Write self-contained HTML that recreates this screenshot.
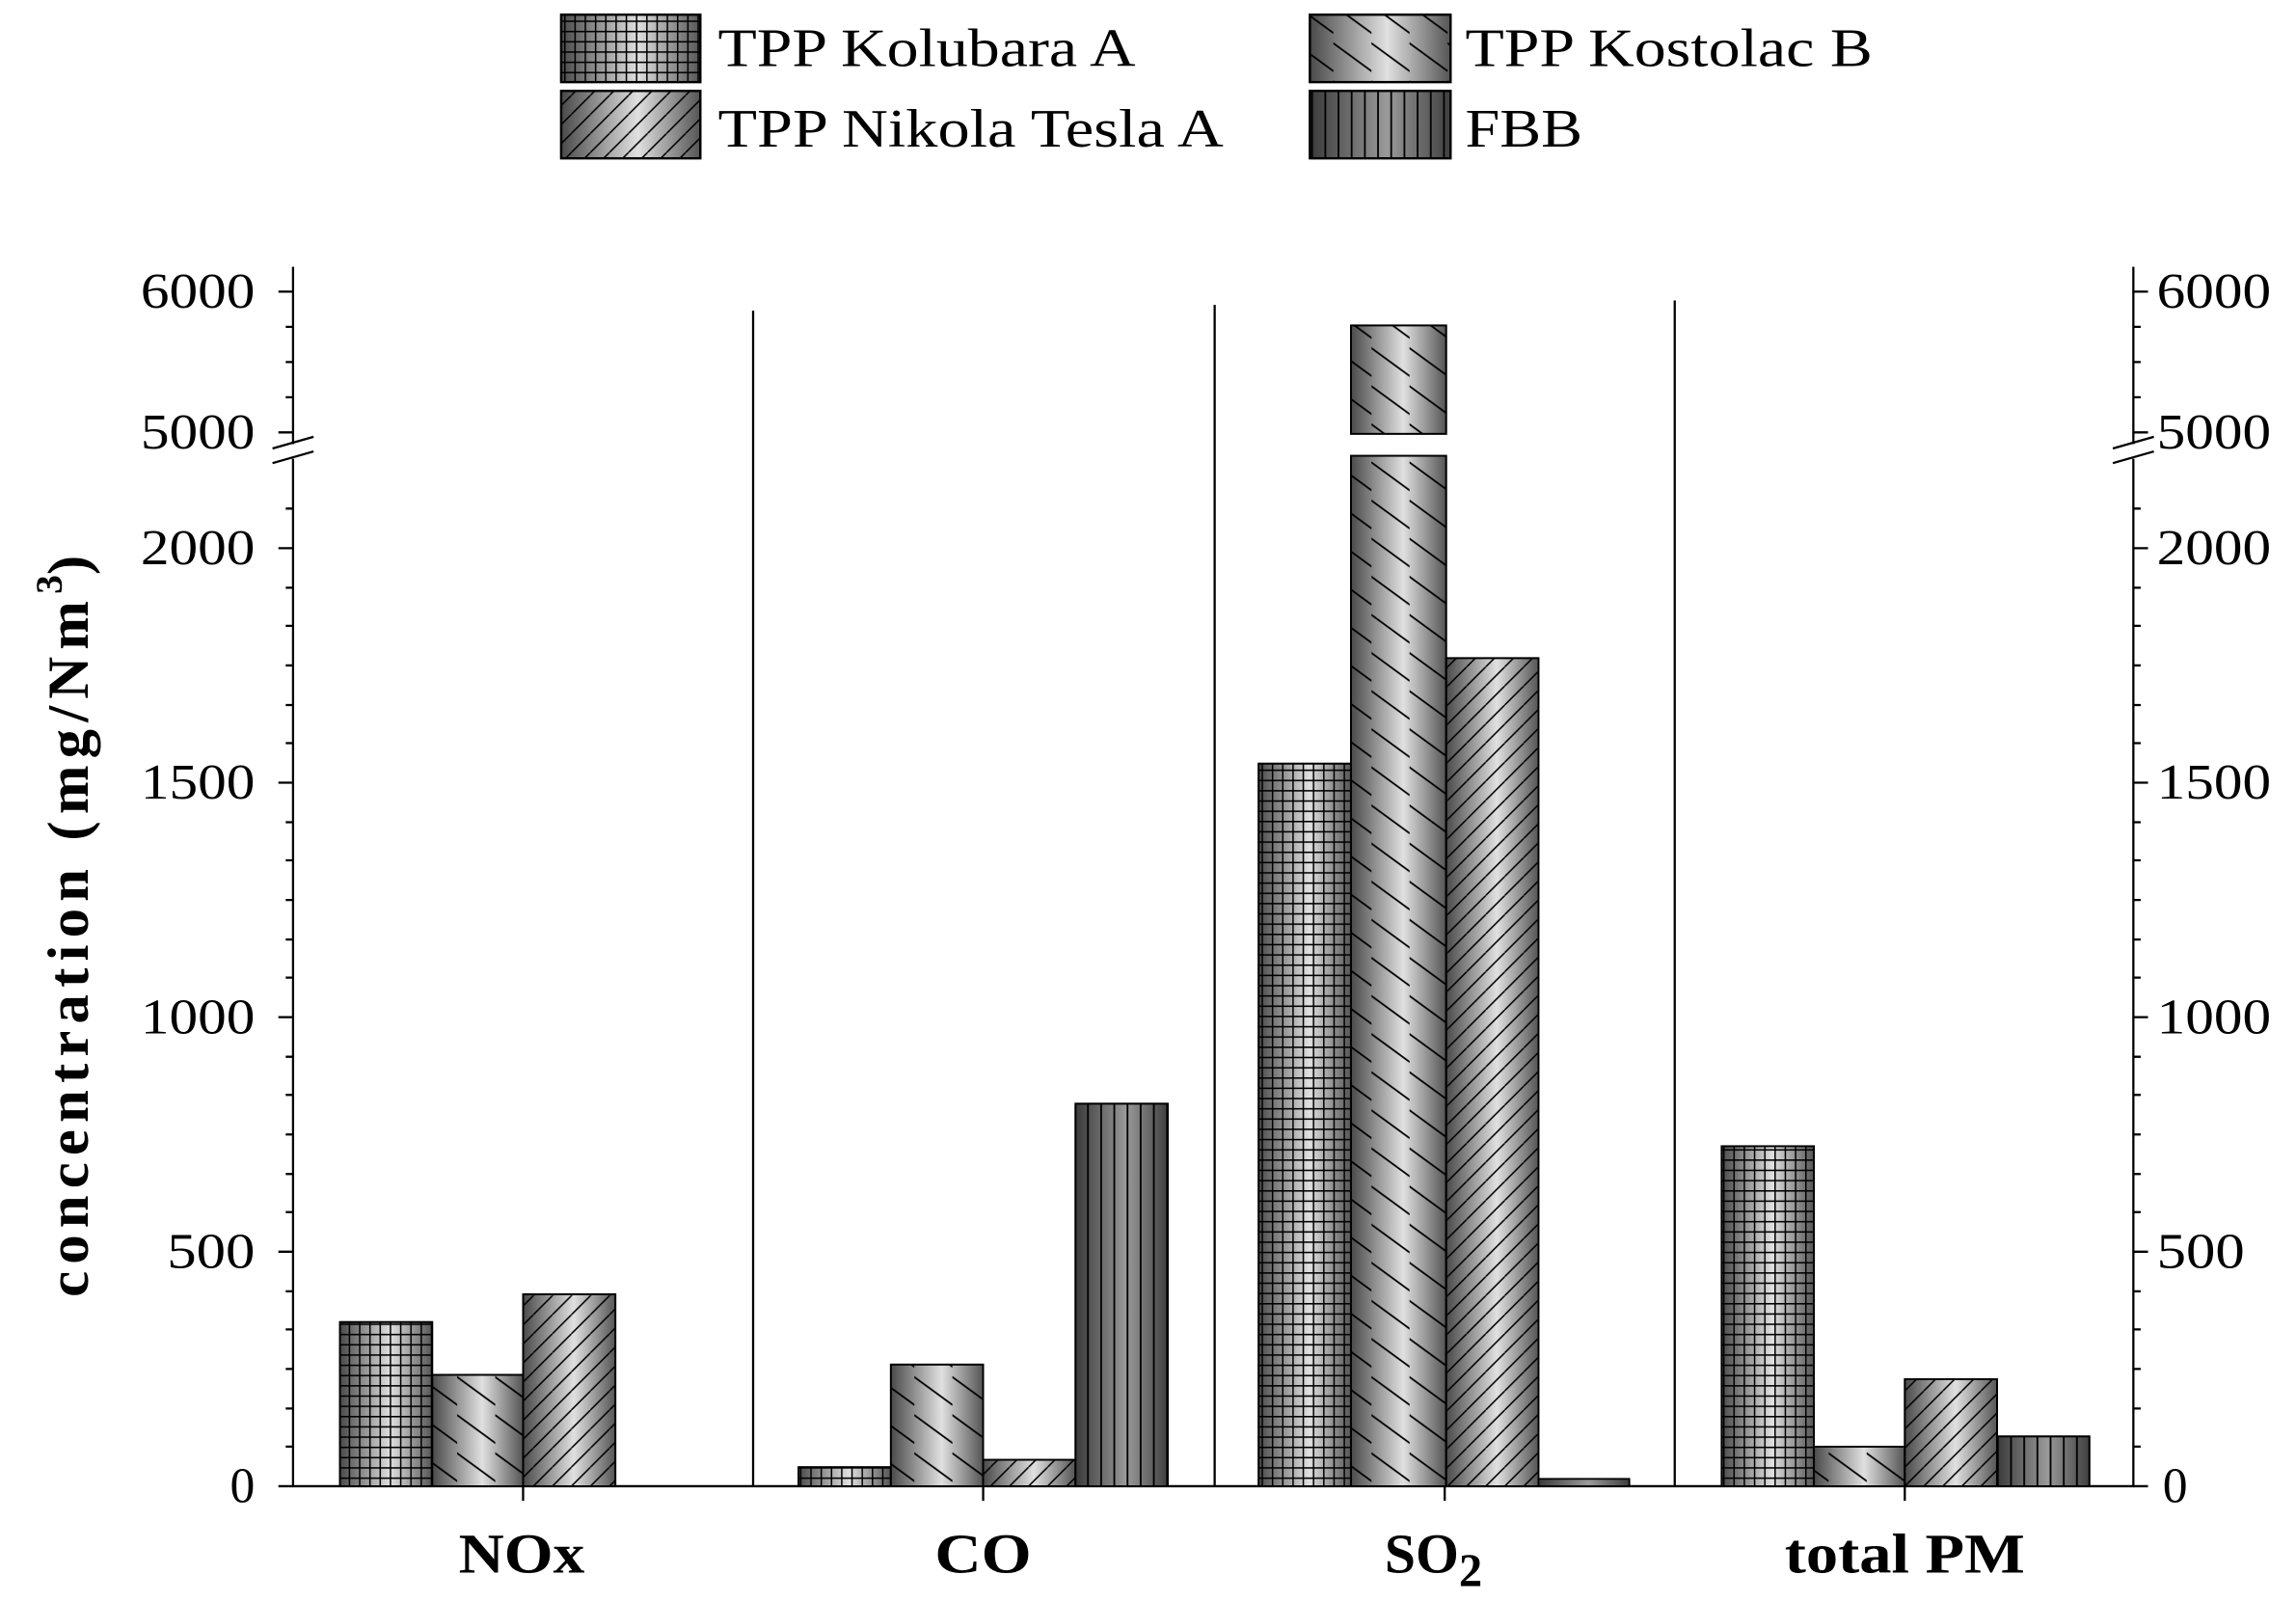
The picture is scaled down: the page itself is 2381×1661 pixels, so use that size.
<!DOCTYPE html>
<html><head><meta charset="utf-8"><style>
html,body{margin:0;padding:0;background:#fff;}
svg{display:block;}
text{font-family:"Liberation Serif",serif;fill:#000;}
</style></head><body>
<svg width="2381" height="1661" viewBox="0 0 1567 1093" preserveAspectRatio="none" xmlns="http://www.w3.org/2000/svg">
<defs>
<linearGradient id="g" x1="0" x2="1" y1="0" y2="0">
<stop offset="0" stop-color="#4a4a4a"/><stop offset="0.55" stop-color="#e0e0e0"/><stop offset="1" stop-color="#555"/>
</linearGradient>
<linearGradient id="gd" x1="0" x2="1" y1="0" y2="0">
<stop offset="0" stop-color="#3a3a3a"/><stop offset="0.55" stop-color="#9a9a9a"/><stop offset="1" stop-color="#3f3f3f"/>
</linearGradient>
<pattern id="pgrid" width="7" height="7" patternUnits="userSpaceOnUse"><path d="M0 0.5H7M0.5 0V7" stroke="#000" stroke-width="1"/></pattern>
<pattern id="pback" width="26" height="26" patternUnits="userSpaceOnUse"><path d="M-13 -6 L39 32 M-13 -32 L39 6 M-13 20 L39 58" stroke="#000" stroke-width="1.2"/></pattern>
<pattern id="pfwd" width="13" height="13" patternUnits="userSpaceOnUse"><path d="M0 13 L13 0 M-13 13 L0 0 M13 13 L26 0" stroke="#000" stroke-width="1"/></pattern>
<pattern id="pvert" width="9" height="9" patternUnits="userSpaceOnUse"><path d="M4.5 0V9" stroke="#000" stroke-width="1.2"/></pattern>
</defs>

<g stroke="#000" stroke-width="1.5">
<rect x="383" y="10" width="95" height="46" fill="url(#g)"/><rect x="383" y="10" width="95" height="46" fill="url(#pgrid)"/>
<rect x="383" y="62" width="95" height="46" fill="url(#g)"/><rect x="383" y="62" width="95" height="46" fill="url(#pfwd)"/>
<rect x="894" y="10" width="96" height="46" fill="url(#g)"/><rect x="894" y="10" width="96" height="46" fill="url(#pback)"/>
<rect x="894" y="62" width="96" height="46" fill="url(#gd)"/><rect x="894" y="62" width="96" height="46" fill="url(#pvert)"/>
</g>
<g font-size="37">
<text x="490" y="45" textLength="285" lengthAdjust="spacingAndGlyphs">TPP Kolubara A</text>
<text x="490" y="100" textLength="345" lengthAdjust="spacingAndGlyphs">TPP Nikola Tesla A</text>
<text x="1000" y="45" textLength="278" lengthAdjust="spacingAndGlyphs">TPP Kostolac B</text>
<text x="1000" y="100" textLength="80" lengthAdjust="spacingAndGlyphs">FBB</text>
</g>

<g stroke="#000" stroke-width="1.5" fill="none">
<path d="M200 182V1014H1456V182"/>
<path d="M514 212V1014M829 208V1014M1143 205V1014"/>
<path d="M357 1014V1024M671 1014V1024M986 1014V1024M1300 1014V1024"/>
<path d="M200 1014H190M200 854H190M200 694H190M200 534H190M200 374H190M200 295H190M200 199H190"/>
<path d="M200 934H195M200 774H195M200 614H195M200 454H195M200 247H195M200 223H195M200 271H195M200 987H195M200 961H195M200 907H195M200 881H195M200 827H195M200 801H195M200 747H195M200 721H195M200 667H195M200 641H195M200 587H195M200 561H195M200 507H195M200 481H195M200 427H195M200 401H195M200 347H195"/>
<path d="M1456 1014H1466M1456 854H1466M1456 694H1466M1456 534H1466M1456 374H1466M1456 295H1466M1456 199H1466"/>
<path d="M1456 934H1461M1456 774H1461M1456 614H1461M1456 454H1461M1456 247H1461M1456 223H1461M1456 271H1461M1456 987H1461M1456 961H1461M1456 907H1461M1456 881H1461M1456 827H1461M1456 801H1461M1456 747H1461M1456 721H1461M1456 667H1461M1456 641H1461M1456 587H1461M1456 561H1461M1456 507H1461M1456 481H1461M1456 427H1461M1456 401H1461M1456 347H1461"/>
</g>
<rect x="190" y="303" width="20" height="10" fill="#fff"/>
<rect x="1446" y="303" width="20" height="10" fill="#fff"/>
<g stroke="#000" stroke-width="1.5">
<path d="M186 306L214 298M186 316L214 308M1442 306L1470 298M1442 316L1470 308"/>
</g>

<g font-size="34" text-anchor="end" lengthAdjust="spacingAndGlyphs">
<text x="174" y="1025">0</text><text x="174" y="865" textLength="60" lengthAdjust="spacingAndGlyphs">500</text><text x="174" y="705" textLength="78" lengthAdjust="spacingAndGlyphs">1000</text>
<text x="174" y="545" textLength="78" lengthAdjust="spacingAndGlyphs">1500</text><text x="174" y="385" textLength="78" lengthAdjust="spacingAndGlyphs">2000</text><text x="174" y="306" textLength="78" lengthAdjust="spacingAndGlyphs">5000</text><text x="174" y="210" textLength="78" lengthAdjust="spacingAndGlyphs">6000</text>
</g>
<g font-size="34" text-anchor="start">
<text x="1476" y="1025">0</text><text x="1472" y="865" textLength="60" lengthAdjust="spacingAndGlyphs">500</text><text x="1472" y="705" textLength="78" lengthAdjust="spacingAndGlyphs">1000</text>
<text x="1472" y="545" textLength="78" lengthAdjust="spacingAndGlyphs">1500</text><text x="1472" y="385" textLength="78" lengthAdjust="spacingAndGlyphs">2000</text><text x="1472" y="306" textLength="78" lengthAdjust="spacingAndGlyphs">5000</text><text x="1472" y="210" textLength="78" lengthAdjust="spacingAndGlyphs">6000</text>
</g>
<g font-size="38" font-weight="bold">
<text x="313" y="1073" textLength="86" lengthAdjust="spacingAndGlyphs">NOx</text>
<text x="638" y="1073" textLength="66" lengthAdjust="spacingAndGlyphs">CO</text>
<text x="945" y="1073">SO<tspan font-size="32" dy="9">2</tspan></text>
<text x="1218" y="1073" textLength="164" lengthAdjust="spacingAndGlyphs">total PM</text>
</g>
<text transform="translate(60,885) rotate(-90)" font-size="40" font-weight="bold"><tspan textLength="475" lengthAdjust="spacing">concentration (mg/Nm</tspan><tspan font-size="26" dy="-18">3</tspan><tspan dy="18">)</tspan></text>

<g stroke="#000" stroke-width="1.2">
<rect x="232" y="902" width="63" height="112" fill="url(#g)"/><rect x="232" y="902" width="63" height="112" fill="url(#pgrid)"/>
<rect x="545" y="1001" width="63" height="13" fill="url(#g)"/><rect x="545" y="1001" width="63" height="13" fill="url(#pgrid)"/>
<rect x="859" y="521" width="63" height="493" fill="url(#g)"/><rect x="859" y="521" width="63" height="493" fill="url(#pgrid)"/>
<rect x="1175" y="782" width="63" height="232" fill="url(#g)"/><rect x="1175" y="782" width="63" height="232" fill="url(#pgrid)"/>
<rect x="295" y="938" width="62" height="76" fill="url(#g)"/><rect x="295" y="938" width="62" height="76" fill="url(#pback)"/>
<rect x="608" y="931" width="63" height="83" fill="url(#g)"/><rect x="608" y="931" width="63" height="83" fill="url(#pback)"/>
<rect x="922" y="311" width="65" height="703" fill="url(#g)"/><rect x="922" y="311" width="65" height="703" fill="url(#pback)"/>
<rect x="922" y="222" width="65" height="74" fill="url(#g)"/><rect x="922" y="222" width="65" height="74" fill="url(#pback)"/>
<rect x="1238" y="987" width="62" height="27" fill="url(#g)"/><rect x="1238" y="987" width="62" height="27" fill="url(#pback)"/>
<rect x="357" y="883" width="63" height="131" fill="url(#g)"/><rect x="357" y="883" width="63" height="131" fill="url(#pfwd)"/>
<rect x="671" y="996" width="63" height="18" fill="url(#g)"/><rect x="671" y="996" width="63" height="18" fill="url(#pfwd)"/>
<rect x="987" y="449" width="63" height="565" fill="url(#g)"/><rect x="987" y="449" width="63" height="565" fill="url(#pfwd)"/>
<rect x="1300" y="941" width="63" height="73" fill="url(#g)"/><rect x="1300" y="941" width="63" height="73" fill="url(#pfwd)"/>
<rect x="734" y="753" width="63" height="261" fill="url(#gd)"/><rect x="734" y="753" width="63" height="261" fill="url(#pvert)"/>
<rect x="1050" y="1009" width="62" height="5" fill="url(#gd)"/>
<rect x="1363" y="980" width="63" height="34" fill="url(#gd)"/><rect x="1363" y="980" width="63" height="34" fill="url(#pvert)"/>
</g>
</svg>
</body></html>
